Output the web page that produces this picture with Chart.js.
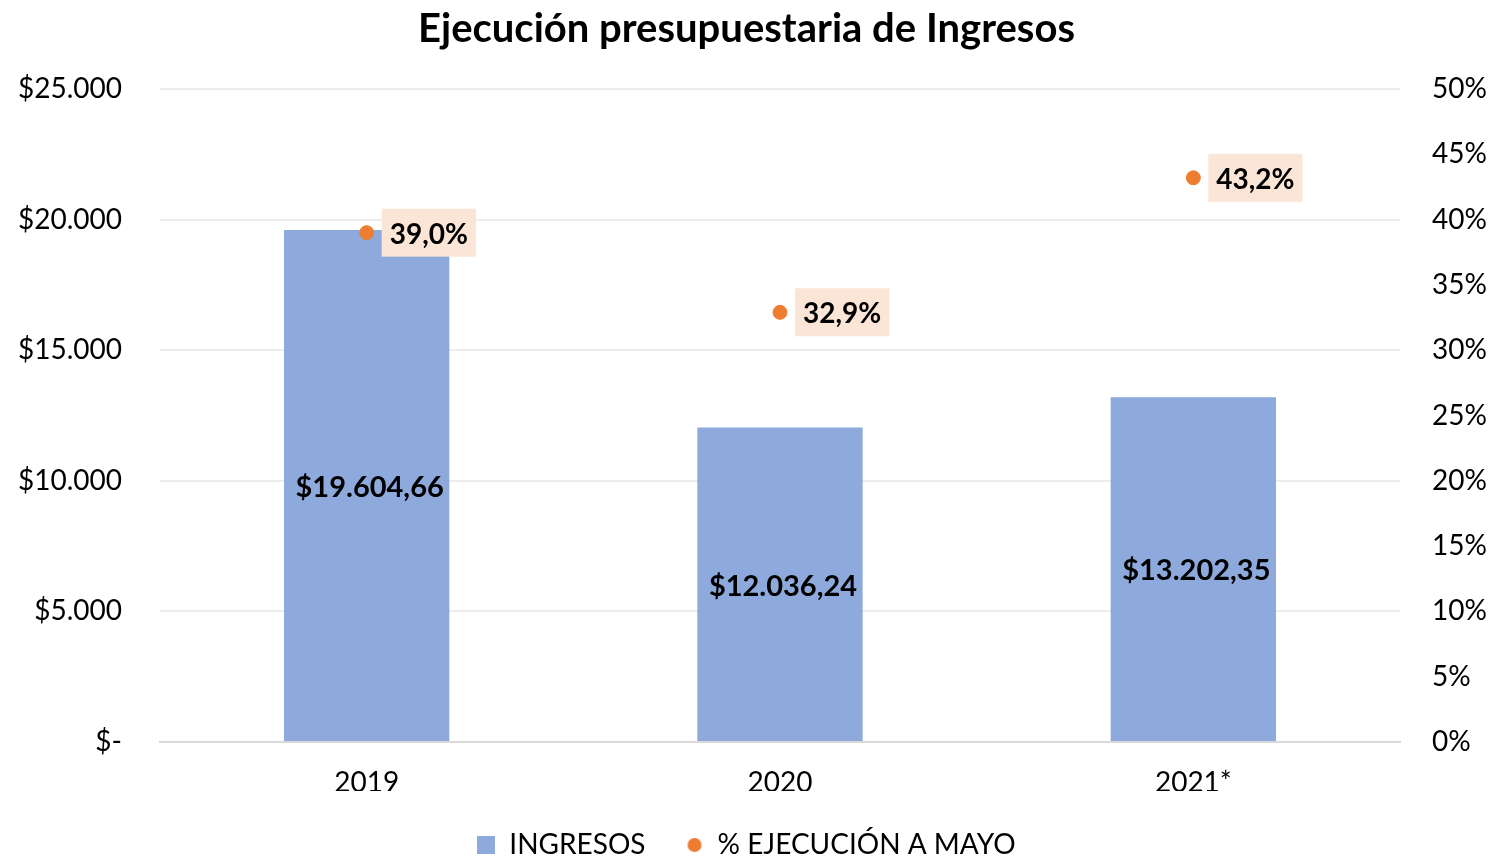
<!DOCTYPE html>
<html>
<head>
<meta charset="utf-8">
<script src="https://cdn.jsdelivr.net/npm/chart.js@4/dist/chart.umd.min.js"></script>
<style>
  html, body { margin: 0; padding: 0; background: #fff; }
</style>
</head>
<body>
<canvas id="chart" width="1493" height="859"></canvas>
<script>
var years = ['2019', '2020', '2021*'];
var ingresos = [19604.66, 12036.24, 13202.35];
var ejecucion = [39.0, 32.9, 43.2];

var FONT = 'Lato, "Open Sans", sans-serif';
var BLUE = '#8EA9DB';
var ORANGE = '#ED7D31';

function miles(n) {
    var s = String(Math.round(n));
    return s.replace(/\B(?=(\d{3})+(?!\d))/g, '.');
}
function money(v) {
    var parts = v.toFixed(2).split('.');
    return '$' + miles(parseInt(parts[0], 10)) + ',' + parts[1];
}
function pct(v) {
    return v.toFixed(1).replace('.', ',') + '%';
}

// small legend markers: square for bars, dot for the points
function marker(kind) {
    var c = document.createElement('canvas');
    c.width = 18; c.height = 18;
    var g = c.getContext('2d');
    if (kind === 'rect') {
        g.fillStyle = BLUE;
        g.fillRect(0, 0, 18, 18);
    } else {
        g.fillStyle = ORANGE;
        g.beginPath();
        g.arc(9, 9, 7, 0, Math.PI * 2);
        g.fill();
    }
    return c;
}
var legendMarks = [marker('rect'), marker('dot')];

var labelPlugin = {
    id: 'labelPlugin',
    afterDatasetsDraw: function(chart) {
        var ctx = chart.ctx;
        ctx.save();
        ctx.textBaseline = 'middle';

        ctx.font = 'bold 29px ' + FONT;
        var bars = chart.getDatasetMeta(0).data;
        ctx.textAlign = 'center';
        ctx.fillStyle = '#000';
        for (var i = 0; i < bars.length; i++) {
            var b = bars[i];
            ctx.fillText(money(ingresos[i]), b.x + 3, (b.y + b.base) / 2 + 2);
        }

        ctx.font = 'bold 28px ' + FONT;
        var pts = chart.getDatasetMeta(1).data;
        ctx.textAlign = 'left';
        for (var j = 0; j < pts.length; j++) {
            var p = pts[j];
            var txt = pct(ejecucion[j]);
            var w = ctx.measureText(txt).width + 16;
            ctx.fillStyle = '#FBE5D6';
            ctx.fillRect(p.x + 15, p.y - 24, w, 48);
            ctx.fillStyle = '#000';
            ctx.fillText(txt, p.x + 23, p.y + 2);
        }
        ctx.restore();
    }
};

new Chart(document.getElementById('chart').getContext('2d'), {
    data: {
        labels: years,
        datasets: [
            {
                type: 'bar',
                label: 'INGRESOS',
                data: ingresos,
                backgroundColor: BLUE,
                barPercentage: 0.4,
                categoryPercentage: 1,
                yAxisID: 'y',
                order: 2
            },
            {
                type: 'line',
                label: '% EJECUCIÓN A MAYO',
                data: ejecucion,
                showLine: false,
                backgroundColor: ORANGE,
                borderColor: ORANGE,
                pointRadius: 7,
                pointStyle: 'circle',
                yAxisID: 'y1',
                order: 1
            }
        ]
    },
    options: {
        responsive: false,
        animation: false,
        layout: { padding: { top: 0, left: 0, right: 0, bottom: -10 } },
        plugins: {
            title: {
                display: true,
                text: 'Ejecución presupuestaria de Ingresos',
                color: '#000',
                font: { family: FONT, size: 40, weight: 'bold' },
                padding: { top: 5, bottom: 36 }
            },
            legend: {
                position: 'bottom',
                labels: {
                    usePointStyle: true,
                    boxWidth: 18,
                    boxHeight: 18,
                    sort: function(a, b) { return a.datasetIndex - b.datasetIndex; },
                    generateLabels: function(chart) {
                        var items = Chart.defaults.plugins.legend.labels.generateLabels(chart);
                        items.forEach(function(it) {
                            it.pointStyle = legendMarks[it.datasetIndex];
                        });
                        return items;
                    },
                    color: '#000',
                    font: { family: FONT, size: 28 },
                    padding: 40
                }
            },
            tooltip: { enabled: false }
        },
        scales: {
            x: {
                afterFit: function(s) { s.height = 49; },
                grid: { display: false, drawTicks: false },
                border: { color: '#D9D9D9', width: 2 },
                ticks: {
                    color: '#000',
                    font: { family: FONT, size: 28 },
                    padding: 24
                }
            },
            y: {
                position: 'left',
                min: 0,
                max: 25000,
                afterFit: function(s) { s.width = 160; },
                grid: { color: '#EDEDED', lineWidth: 2, drawTicks: false },
                border: { display: false },
                ticks: {
                    stepSize: 5000,
                    color: '#000',
                    font: { family: FONT, size: 28 },
                    padding: 38,
                    callback: function(v) { return v === 0 ? '$-' : '$' + miles(v); }
                }
            },
            y1: {
                position: 'right',
                min: 0,
                max: 50,
                afterFit: function(s) { s.width = 93; },
                grid: { display: false, drawTicks: false },
                border: { display: false },
                ticks: {
                    stepSize: 5,
                    color: '#000',
                    font: { family: FONT, size: 28 },
                    padding: 32,
                    callback: function(v) { return v + '%'; }
                }
            }
        }
    },
    plugins: [labelPlugin]
});
</script>
</body>
</html>
